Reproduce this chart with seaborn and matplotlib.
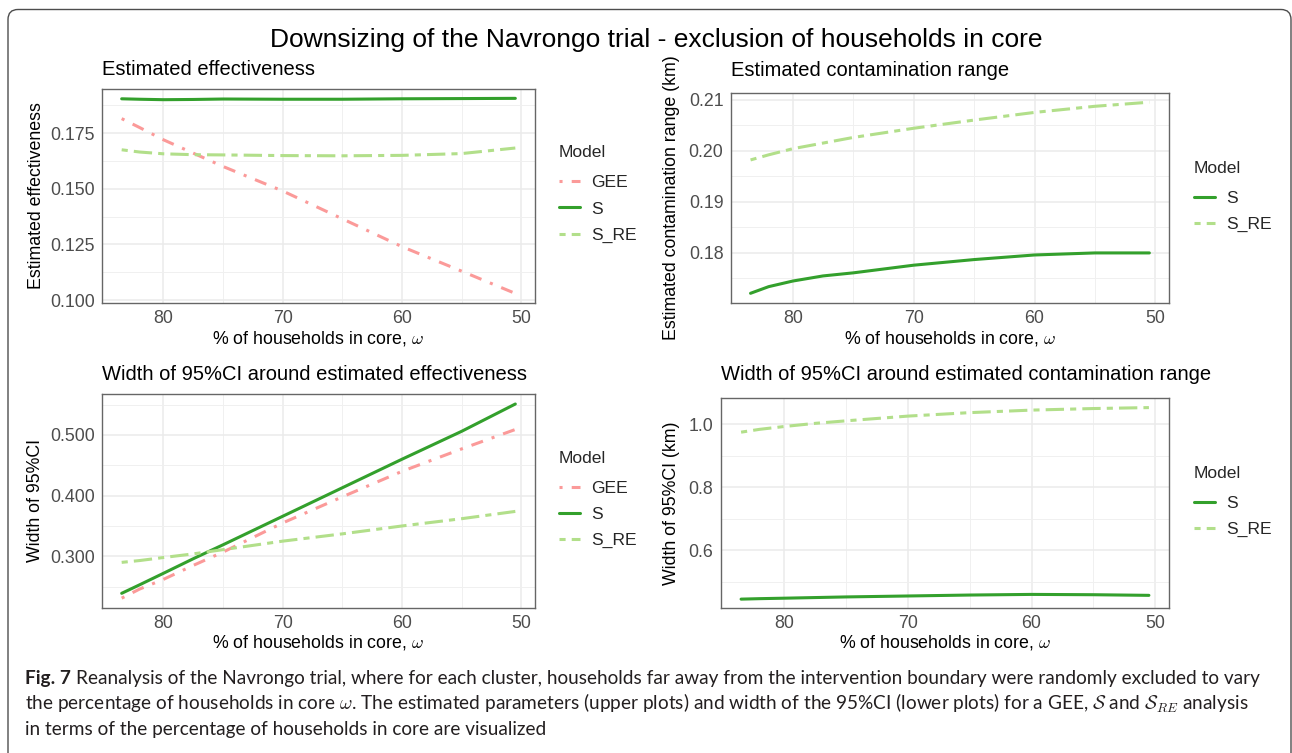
import numpy as np
import pandas as pd
import matplotlib
matplotlib.use("Agg")
import matplotlib.pyplot as plt
import seaborn as sns
from matplotlib.patches import FancyBboxPatch
from matplotlib.transforms import IdentityTransform
from matplotlib.ticker import FixedLocator, FormatStrFormatter

# ---------------- data ----------------
omega = [83.5, 82, 80, 77.5, 75, 70, 65, 60, 55, 50.5]

eff_gee = [0.1815, 0.1775, 0.1720, 0.1660, 0.1600, 0.1490, 0.1365, 0.1240, 0.1130, 0.1030]
eff_s = [0.1904, 0.1902, 0.1900, 0.1901, 0.1903, 0.1902, 0.1902, 0.1904, 0.1905, 0.1906]
eff_sre = [0.1675, 0.1665, 0.1657, 0.1653, 0.1652, 0.1649, 0.1648, 0.1650, 0.1658, 0.1683]

rng_s = [0.1721, 0.1734, 0.1745, 0.1755, 0.1761, 0.1776, 0.1787, 0.1796, 0.1800, 0.1800]
rng_sre = [0.1982, 0.1992, 0.2004, 0.2015, 0.2026, 0.2044, 0.2060, 0.2075, 0.2087, 0.2095]

wid_eff_gee = [0.231, 0.246, 0.262, 0.285, 0.307, 0.355, 0.398, 0.440, 0.477, 0.509]
wid_eff_s = [0.239, 0.253, 0.272, 0.296, 0.319, 0.366, 0.413, 0.460, 0.506, 0.551]
wid_eff_sre = [0.290, 0.293, 0.298, 0.304, 0.311, 0.325, 0.337, 0.350, 0.362, 0.374]

wid_rng_s = [0.445, 0.4465, 0.448, 0.450, 0.452, 0.455, 0.458, 0.460, 0.459, 0.457]
wid_rng_sre = [0.975, 0.984, 0.993, 1.003, 1.011, 1.026, 1.037, 1.045, 1.050, 1.053]

x_ticks = [80, 70, 60, 50]
x_minor = [75, 65, 55]

main_title = "Downsizing of the Navrongo trial - exclusion of households in core"
xlabel = r"% of households in core, $\omega$"

caption_bold = "Fig. 7"
caption_l1 = ("Reanalysis of the Navrongo trial, where for each cluster, households far away "
              "from the intervention boundary were randomly excluded to vary")
caption_l2 = (r"the percentage of households in core $\omega$. The estimated parameters (upper plots) "
              r"and width of the 95%CI (lower plots) for a GEE, $\mathcal{S}$ and $\mathcal{S}_{RE}$ analysis")
caption_l3 = "in terms of the percentage of households in core are visualized"

palette = {"GEE": "#FB9A99", "S": "#33A02C", "S_RE": "#B2DF8A"}
dashes = {"GEE": (1, 3, 4, 3), "S": "", "S_RE": (2, 2, 6, 2)}


def long_df(series):
    rows = []
    for model, vals in series.items():
        for x, v in zip(omega, vals):
            rows.append({"omega": x, "value": v, "Model": model})
    return pd.DataFrame(rows)


panels = [
    dict(df=long_df({"GEE": eff_gee, "S": eff_s, "S_RE": eff_sre}),
         box=(102, 89, 535, 303), title="Estimated effectiveness",
         ylabel="Estimated effectiveness", ylim=(0.0987, 0.1948),
         yticks=[0.100, 0.125, 0.150, 0.175], yminor=[0.1125, 0.1375, 0.1625, 0.1875],
         yfmt="%.3f", ylab_x=36.5, xlab_y=338, title_y=70, leg=(559, 194)),
    dict(df=long_df({"S": rng_s, "S_RE": rng_sre}),
         box=(730.6, 93, 1169.3, 303), title="Estimated contamination range",
         ylabel="Estimated contamination range (km)", ylim=(0.1702, 0.2113),
         yticks=[0.18, 0.19, 0.20, 0.21], yminor=[0.175, 0.185, 0.195, 0.205],
         yfmt="%.2f", ylab_x=672, xlab_y=338, title_y=70, leg=(1194, 196.5)),
    dict(df=long_df({"GEE": wid_eff_gee, "S": wid_eff_s, "S_RE": wid_eff_sre}),
         box=(102, 394.3, 535, 607.7), title="Width of 95%CI around estimated effectiveness",
         ylabel="Width of 95%CI", ylim=(0.2153, 0.567),
         yticks=[0.3, 0.4, 0.5], yminor=[0.25, 0.35, 0.45, 0.55],
         yfmt="%.3f", ylab_x=35, xlab_y=643, title_y=375, leg=(559, 499.5)),
    dict(df=long_df({"S": wid_rng_s, "S_RE": wid_rng_sre}),
         box=(720.7, 398.3, 1169.3, 607.7), title="Width of 95%CI around estimated contamination range",
         ylabel="Width of 95%CI (km)", ylim=(0.4178, 1.0825),
         yticks=[0.6, 0.8, 1.0], yminor=[0.5, 0.7, 0.9],
         yfmt="%.1f", ylab_x=671, xlab_y=643, title_y=375, leg=(1194, 501.5)),
]

# ---------------- style ----------------
sns.set_theme(style="white")
plt.rcParams["font.family"] = ["Liberation Sans", "DejaVu Sans"]
plt.rcParams["mathtext.fontset"] = "cm"

W, H = 1292, 753
fig = plt.figure(figsize=(W / 100, H / 100), dpi=100)
fig.patch.set_facecolor("white")

LW = 2.2
TICK_FS = 12.8
LAB_FS = 12.8
LEG_FS = 12.6

for p in panels:
    l, t, r, b = p["box"]
    ax = fig.add_axes([l / W, 1 - b / H, (r - l) / W, (b - t) / H])
    df = p["df"]
    models = list(dict.fromkeys(df["Model"]))
    sns.lineplot(data=df, x="omega", y="value", hue="Model", style="Model",
                 hue_order=models, style_order=models,
                 palette={m: palette[m] for m in models},
                 dashes={m: dashes[m] for m in models},
                 linewidth=LW, ax=ax, legend=True, sort=False)
    ax.set_xlim(85.15, 48.85)
    ax.set_ylim(*p["ylim"])
    ax.xaxis.set_major_locator(FixedLocator(x_ticks))
    ax.xaxis.set_minor_locator(FixedLocator(x_minor))
    ax.yaxis.set_major_locator(FixedLocator(p["yticks"]))
    ax.yaxis.set_minor_locator(FixedLocator(p["yminor"]))
    ax.xaxis.set_major_formatter(FormatStrFormatter("%d"))
    ax.yaxis.set_major_formatter(FormatStrFormatter(p["yfmt"]))
    ax.set_axisbelow(True)
    ax.grid(True, which="major", color="#EBEBEB", lw=1.1)
    ax.grid(True, which="minor", color="#F0F0F0", lw=0.7)
    ax.tick_params(axis="both", which="major", length=2.9, width=0.9, color="#333333",
                   labelsize=TICK_FS, labelcolor="#4D4D4D", pad=2.3)
    ax.tick_params(axis="both", which="minor", length=0)
    for s in ax.spines.values():
        s.set_color("#666666")
        s.set_linewidth(1.0)
        s.set_visible(True)

    ax.set_xlabel(xlabel, fontsize=LAB_FS, color="black")
    ax.set_ylabel(p["ylabel"], fontsize=LAB_FS, color="black")
    ax.xaxis.label.set_va("center")
    ax.yaxis.label.set_va("center")
    ax.xaxis.set_label_coords(0.5, (b - p["xlab_y"]) / (b - t))
    ax.yaxis.set_label_coords((p["ylab_x"] - l) / (r - l), 0.5)

    ax.set_title(p["title"], loc="left", fontsize=14.5, color="black",
                 y=(b - p["title_y"]) / (b - t), pad=0, va="center")

    lx, ly = p["leg"]
    sns.move_legend(ax, loc="center left",
                    bbox_to_anchor=((lx - l) / (r - l), (b - ly) / (b - t)),
                    frameon=False, title="Model", fontsize=LEG_FS, title_fontsize=LEG_FS,
                    borderpad=0, borderaxespad=0, handlelength=1.22, handletextpad=0.64,
                    labelspacing=0.62, alignment="left")
    leg = ax.get_legend()
    leg._legend_box.sep = leg._legend_box.sep + 3

fig.text(656 / W, 1 - 40 / H, main_title, ha="center", va="center", fontsize=19, color="black")

# ---------------- frame ----------------
frame = FancyBboxPatch((8, -30), 1283, 743.5 + 30, boxstyle="round,pad=0,rounding_size=10",
                       transform=IdentityTransform(), facecolor="none",
                       edgecolor="#4D4D4D", linewidth=1.0)
fig.patches.append(frame)

# ---------------- caption ----------------
cap_fam = ["Lato", "DejaVu Sans"]
cap_col = "#231F20"
renderer = fig.canvas.get_renderer()
x0 = 25
target = 1267 - 25


def place_caption(fs):
    tb = fig.text(x0 / W, 1 - 684 / H, caption_bold, fontsize=fs, fontweight="bold",
                  family=cap_fam, color=cap_col, va="baseline", ha="left")
    wb = tb.get_window_extent(renderer).width
    sp = fs * 100 / 72 * 0.25
    t1 = fig.text((x0 + wb + sp) / W, 1 - 684 / H, caption_l1, fontsize=fs,
                  family=cap_fam, color=cap_col, va="baseline", ha="left")
    w1 = wb + sp + t1.get_window_extent(renderer).width
    return tb, t1, w1


fs = 14.0
tb, t1, w1 = place_caption(fs)
fs = fs * target / w1
tb.remove(); t1.remove()
tb, t1, w1 = place_caption(fs)

fig.text(x0 / W, 1 - 709.5 / H, caption_l2, fontsize=fs, family=cap_fam,
         color=cap_col, va="baseline", ha="left")
fig.text(x0 / W, 1 - 735 / H, caption_l3, fontsize=fs, family=cap_fam,
         color=cap_col, va="baseline", ha="left")

fig.savefig("out.png", dpi=100, facecolor="white")
